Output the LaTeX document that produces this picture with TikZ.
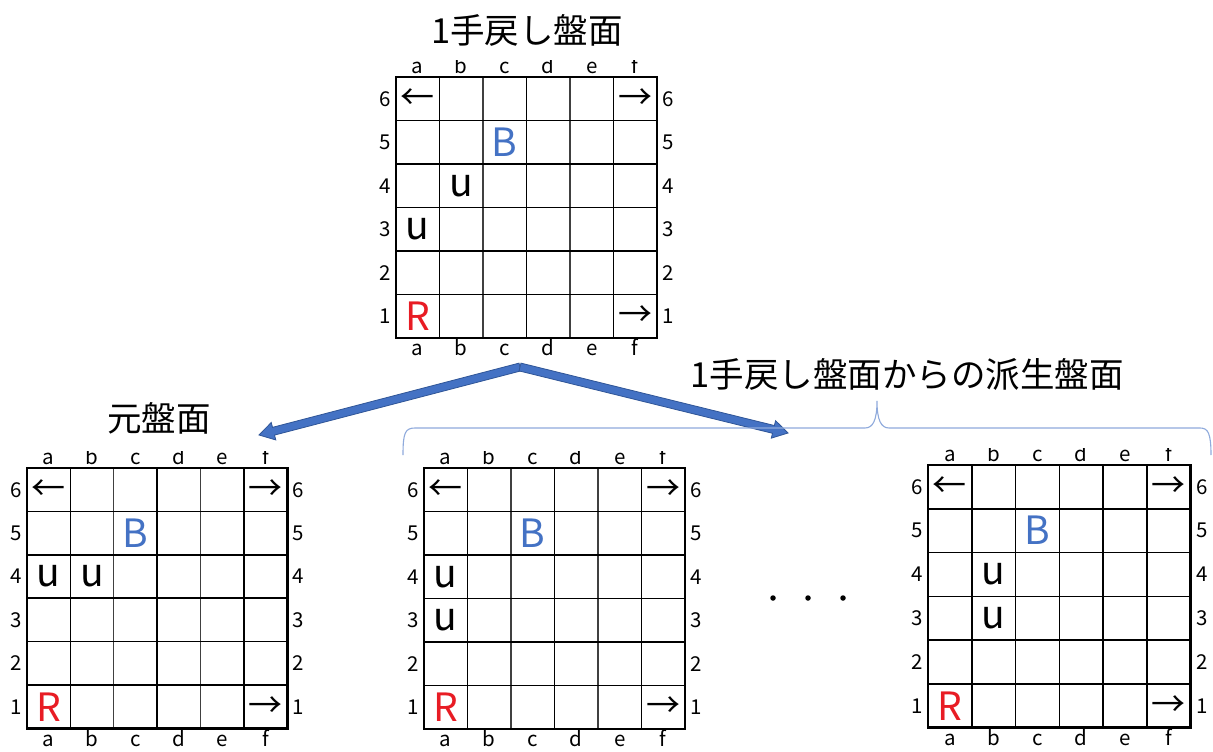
\documentclass[tikz,border=0pt]{standalone}
\usepackage{fontspec}
\setmainfont{Noto Sans CJK JP}
\usetikzlibrary{calc}
\definecolor{pieceblue}{RGB}{68,114,196}
\definecolor{arrowedge}{RGB}{47,85,151}
\definecolor{bracecol}{RGB}{143,170,220}
\definecolor{piecered}{RGB}{232,28,36}
\tikzset{
 frame/.style={draw, line width=2.7pt, inner sep=0pt, outer sep=0pt},
 gridA/.style={line width=1.7pt},
 gridB/.style={line width=1.1pt, black!75},
 lab/.style={inner sep=0pt, font=\fontsize{20.5}{20.5}\selectfont},
 piece/.style={inner sep=0pt, font=\fontsize{39}{39}\selectfont},
 arr/.style={inner sep=0pt, font=\fontsize{34}{34}\selectfont},
 title/.style={inner sep=0pt, font=\fontsize{34.5}{34.5}\selectfont},
 bigarrow/.style={fill=pieceblue, draw=arrowedge, line width=0.8pt, line join=miter},
 brace/.style={draw=bracecol, line width=1.1pt},
 dotnode/.style={circle, fill=black, inner sep=0pt, minimum size=5.5pt},
}
% #1 name, #2 left x, #3 top y, #4 cell size, #5 style of lines b|c and d|e, #6 pieces
\newcommand\board[6]{%
\begin{scope}[shift={(#2,#3)}, x=#4pt, y=-#4pt]
  \foreach \k in {1,3,5} \draw[gridA] (\k,0) -- (\k,6);
  \foreach \k in {2,4} \draw[#5] (\k,0) -- (\k,6);
  \foreach \k in {1,...,5} \draw[gridA] (0,\k) -- (6,\k);
  \node[frame, minimum width=6*#4pt, minimum height=6*#4pt, anchor=north west] (#1) at (0,0) {};
  \begin{scope}
    \clip (-1,-0.37) rectangle (7,0.5);
    \foreach \l [count=\n] in {a,...,f}
      \node[lab, anchor=base] (#1-top-\l) at (\n-0.5,-0.07) {\l};
  \end{scope}
  \foreach \l [count=\n] in {a,...,f}
    \node[lab, anchor=base] (#1-bot-\l) at (\n-0.5,6.41) {\l};
  \foreach \k in {1,...,6} {
    \node[lab] (#1-L\k) at (-0.25,6.5-\k) {\k};
    \node[lab] (#1-R\k) at (6.25,6.5-\k) {\k};
  }
  #6
\end{scope}}
\newcommand\blockarrow[2]{%
  \coordinate (h) at ($(#2)!15pt!(#1)$);
  \draw[bigarrow] ($(#1)!4pt!90:(#2)$) -- ($(h)!4pt!-90:(#1)$) -- ($(h)!9pt!-90:(#1)$) -- (#2)
    -- ($(h)!9pt!90:(#1)$) -- ($(h)!4pt!90:(#1)$) -- ($(#1)!4pt!-90:(#2)$) -- cycle;}
\begin{document}
\begin{tikzpicture}[x=1pt,y=-1pt]
\useasboundingbox (0,0) rectangle (1213,752);
\fill[white] (0,0) rectangle (1213,752);

\node[title] (t0) at (527,30) {1手戻し盤面};
\node[title] (t1) at (159,418) {元盤面};
\node[title] (t2) at (907,374) {1手戻し盤面からの派生盤面};

\board{top}{396}{77}{43.5}{gridB}{%
  \node[arr] (top-a6) at (0.5,0.5) {←};
  \node[arr] (top-f6) at (5.5,0.5) {→};
  \node[piece, text=pieceblue] (top-c5) at (2.5,1.5) {B};
  \node[piece] (top-b4) at (1.5,2.5) {u};
  \node[piece] (top-a3) at (0.5,3.5) {u};
  \node[piece, text=piecered] (top-a1) at (0.5,5.5) {R};
  \node[arr] (top-f1) at (5.5,5.5) {→};
}
\board{b1}{27}{468}{43.4}{gridB}{%
  \node[arr] (b1-a6) at (0.5,0.5) {←};
  \node[arr] (b1-f6) at (5.5,0.5) {→};
  \node[piece, text=pieceblue] (b1-c5) at (2.5,1.5) {B};
  \node[piece] (b1-a4) at (0.5,2.5) {u};
  \node[piece] (b1-b4) at (1.5,2.5) {u};
  \node[piece, text=piecered] (b1-a1) at (0.5,5.5) {R};
  \node[arr] (b1-f1) at (5.5,5.5) {→};
}
\board{b2}{424}{468}{43.5}{gridB}{%
  \node[arr] (b2-a6) at (0.5,0.5) {←};
  \node[arr] (b2-f6) at (5.5,0.5) {→};
  \node[piece, text=pieceblue] (b2-c5) at (2.5,1.5) {B};
  \node[piece] (b2-a4) at (0.5,2.5) {u};
  \node[piece] (b2-a3) at (0.5,3.5) {u};
  \node[piece, text=piecered] (b2-a1) at (0.5,5.5) {R};
  \node[arr] (b2-f1) at (5.5,5.5) {→};
}
\board{b3}{928}{465}{43.8}{gridA}{%
  \node[arr] (b3-a6) at (0.5,0.5) {←};
  \node[arr] (b3-f6) at (5.5,0.5) {→};
  \node[piece, text=pieceblue] (b3-c5) at (2.5,1.5) {B};
  \node[piece] (b3-b4) at (1.5,2.5) {u};
  \node[piece] (b3-b3) at (1.5,3.5) {u};
  \node[piece, text=piecered] (b3-a1) at (0.5,5.5) {R};
  \node[arr] (b3-f1) at (5.5,5.5) {→};
}

\coordinate (apex) at (520,367);
\coordinate (tipL) at (259,435);
\coordinate (tipR) at (788,433);
\blockarrow{apex}{tipL}
\blockarrow{apex}{tipR}

\draw[brace] (403,455) .. controls (403,433) and (405,428) .. (415,428) -- (865,428)
  .. controls (873,428) and (877,420) .. (877,401)
  .. controls (877,420) and (881,428) .. (889,428) -- (1200,428)
  .. controls (1208,428) and (1211,433) .. (1211,455);

\node[dotnode] (d1) at (773,598) {};
\node[dotnode] (d2) at (808,598) {};
\node[dotnode] (d3) at (843,598) {};
\end{tikzpicture}
\end{document}
